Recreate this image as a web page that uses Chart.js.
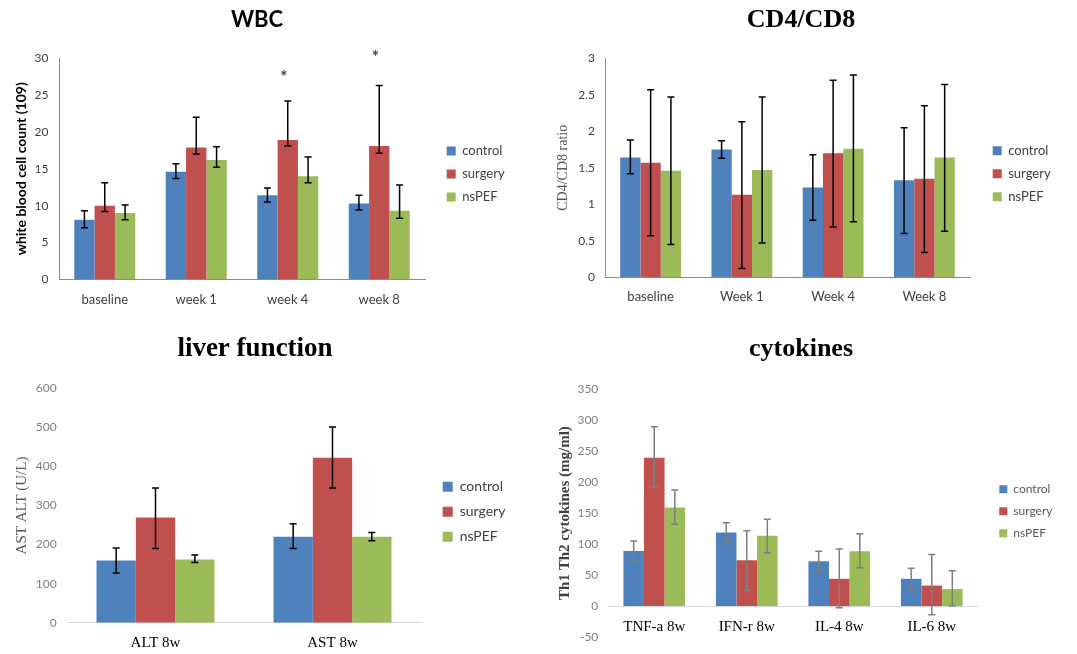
<!DOCTYPE html>
<html><head><meta charset="utf-8">
<script src="https://cdn.jsdelivr.net/npm/chart.js@4.4.1/dist/chart.umd.min.js"></script>
<style>
html,body{margin:0;padding:0;background:#fff;}
body{width:1077px;height:654px;position:relative;overflow:hidden;}
canvas{position:absolute;}
</style></head><body>
<canvas id="wbc" width="514" height="325" style="left:0;top:0"></canvas>
<canvas id="cd" width="522" height="325" style="left:540px;top:0"></canvas>
<canvas id="liver" width="510" height="329" style="left:0;top:325px"></canvas>
<canvas id="cyto" width="522" height="329" style="left:540px;top:325px"></canvas>
<script>
// ---------------- data ----------------
const seriesNames = ['control', 'surgery', 'nsPEF'];

// WBC
const wbcLabels = ['baseline', 'week 1', 'week 4', 'week 8'];
const wbcControl   = [8.1, 14.6, 11.4, 10.3];
const wbcControlHi = [9.3, 15.7, 12.4, 11.4];
const wbcControlLo = [7.0, 13.7, 10.5, 9.4];
const wbcSurgery   = [10.0, 17.9, 18.9, 18.1];
const wbcSurgeryHi = [13.1, 22.0, 24.2, 26.3];
const wbcSurgeryLo = [9.2, 17.0, 18.1, 17.1];
const wbcNsPEF     = [9.0, 16.2, 14.0, 9.3];
const wbcNsPEFHi   = [10.1, 18.0, 16.6, 12.8];
const wbcNsPEFLo   = [8.1, 15.2, 13.1, 8.3];
const wbcStarMarks = ['', '', '*', '*'];
const wbcStarAt    = [null, null, 27.8, 30.5];

// CD4/CD8
const cdLabels = ['baseline', 'Week 1', 'Week 4', 'Week 8'];
const cdControl   = [1.64, 1.75, 1.23, 1.33];
const cdControlHi = [1.88, 1.87, 1.68, 2.05];
const cdControlLo = [1.42, 1.63, 0.78, 0.60];
const cdSurgery   = [1.57, 1.13, 1.70, 1.35];
const cdSurgeryHi = [2.57, 2.13, 2.70, 2.35];
const cdSurgeryLo = [0.57, 0.12, 0.69, 0.34];
const cdNsPEF     = [1.46, 1.47, 1.76, 1.64];
const cdNsPEFHi   = [2.47, 2.47, 2.77, 2.64];
const cdNsPEFLo   = [0.45, 0.47, 0.76, 0.63];

// liver function
const liverLabels = ['ALT 8w', 'AST 8w'];
const liverControl   = [159, 220];
const liverControlHi = [191, 253];
const liverControlLo = [127, 190];
const liverSurgery   = [269, 422];
const liverSurgeryHi = [345, 501];
const liverSurgeryLo = [190, 345];
const liverNsPEF     = [162, 220];
const liverNsPEFHi   = [173, 231];
const liverNsPEFLo   = [154, 210];

// cytokines
const cytoLabels = ['TNF-a 8w', 'IFN-r 8w', 'IL-4 8w', 'IL-6 8w'];
const cytoControl   = [89, 118.5, 72.4, 44];
const cytoControlHi = [105, 134.5, 88.5, 61];
const cytoControlLo = [73, 102, 57, 28.4];
const cytoSurgery   = [239, 74, 44, 33];
const cytoSurgeryHi = [289, 121.6, 92, 83];
const cytoSurgeryLo = [191.5, 25.3, -2.6, -14];
const cytoNsPEF     = [159, 113.3, 88.5, 27.4];
const cytoNsPEFHi   = [187, 140, 116.5, 57];
const cytoNsPEFLo   = [132, 86, 62, 0.5];

// axis ranges
const wbcAxis   = {min: 0, max: 30, step: 5};
const cdAxis    = {min: 0, max: 3, step: 0.5};
const liverAxis = {min: 0, max: 600, step: 100};
const cytoAxis  = {min: -50, max: 350, step: 50};

// ---------------- style ----------------
const SANS = "Lato, 'Open Sans', sans-serif";
const SERIF = "'Liberation Serif', 'Times New Roman', serif";
const barColors = ['#4F81BD', '#C0504D', '#9BBB59'];
Chart.defaults.font.family = SANS;

function errorBarPlugin(color, width, cap) {
  return {
    id: 'errorBars',
    afterDatasetsDraw(chart) {
      const ctx = chart.ctx, ys = chart.scales.y;
      ctx.save();
      ctx.strokeStyle = color; ctx.lineWidth = width;
      chart.data.datasets.forEach((ds, i) => {
        const meta = chart.getDatasetMeta(i);
        meta.data.forEach((bar, j) => {
          const hi = ys.getPixelForValue(ds.errHi[j]);
          const lo = ys.getPixelForValue(ds.errLo[j]);
          const x = bar.x;
          ctx.beginPath();
          ctx.moveTo(x, hi); ctx.lineTo(x, lo);
          ctx.moveTo(x - cap, hi); ctx.lineTo(x + cap, hi);
          ctx.moveTo(x - cap, lo); ctx.lineTo(x + cap, lo);
          ctx.stroke();
        });
      });
      ctx.restore();
    }
  };
}

function starPlugin(marks, at, dsIndex) {
  return {
    id: 'starMarks',
    afterDatasetsDraw(chart) {
      const meta = chart.getDatasetMeta(dsIndex), ys = chart.scales.y, ctx = chart.ctx;
      ctx.save();
      ctx.font = 'bold 17px ' + SANS; ctx.fillStyle = '#404040';
      ctx.textAlign = 'center'; ctx.textBaseline = 'middle';
      marks.forEach((m, j) => { if (m) ctx.fillText(m, meta.data[j].x - 4, ys.getPixelForValue(at[j]) + 3); });
      ctx.restore();
    }
  };
}

function legendPlacer(x, yCenter, itemH, pad) {
  return {
    id: 'legendPlacer',
    afterLayout(chart) {
      const lg = chart.legend; if (!lg) return;
      lg.left = x - pad; lg.width = 250; lg.right = lg.left + 250;
      lg.top = yCenter - itemH / 2 - pad; lg.height = 200; lg.bottom = lg.top + 200;
    }
  };
}

function buildChart(id, s) {
  const datasets = s.series.map((ser, i) => ({
    label: seriesNames[i], data: ser[0], errHi: ser[1], errLo: ser[2],
    backgroundColor: barColors[i], borderWidth: 0,
    categoryPercentage: 2 / 3, barPercentage: 1
  }));
  const plugins = [errorBarPlugin(s.errColor, 1.5, 3.5),
                   legendPlacer(s.legX, s.legY, s.legFont, s.legPad)];
  if (s.stars) plugins.push(s.stars);
  return new Chart(document.getElementById(id), {
    type: 'bar',
    data: {labels: s.labels, datasets},
    options: {
      responsive: false, animation: false, devicePixelRatio: 1,
      layout: {padding: {left: 0, right: 0, top: 0, bottom: s.padB}},
      plugins: {
        tooltip: {enabled: false},
        title: {display: true, text: s.title, color: '#000',
                font: s.titleFont, padding: s.titlePad},
        legend: {display: true, position: 'right', align: 'start', maxWidth: 1,
                 labels: {boxWidth: s.legBox, boxHeight: s.legBox, padding: s.legPad,
                          color: s.legColor, font: {family: SANS, size: s.legFont}}}
      },
      scales: {
        x: {
          position: s.xPos || 'bottom',
          grid: {display: false, drawTicks: false},
          border: {display: true, color: s.xBorder, width: 1},
          ticks: {font: s.xFont, color: s.xColor, padding: s.xPad, maxRotation: 0},
          afterFit: sc => { sc.height = s.xH; }
        },
        y: {
          min: s.axis.min, max: s.axis.max,
          grid: {display: false, drawTicks: false},
          border: {display: !!s.yBorder, color: s.yBorder || '#000', width: 1},
          ticks: {stepSize: s.axis.step, font: {family: SANS, size: 12}, color: s.yTickColor,
                  padding: s.yPad, callback: v => String(Math.round(v * 100) / 100)},
          title: {display: true, text: s.yTitle, color: s.yTitleColor, font: s.yTitleFont,
                  padding: {top: s.yTitleOff, bottom: 0}},
          afterFit: sc => { sc.width = s.yW; }
        },
        y2: {
          position: 'right', display: true,
          grid: {display: false, drawTicks: false}, border: {display: false},
          ticks: {display: false},
          afterFit: sc => { sc.width = s.y2W; }
        }
      }
    },
    plugins
  });
}

// ---------------- panels ----------------
buildChart('wbc', {
  labels: wbcLabels, axis: wbcAxis,
  series: [[wbcControl, wbcControlHi, wbcControlLo],
           [wbcSurgery, wbcSurgeryHi, wbcSurgeryLo],
           [wbcNsPEF, wbcNsPEFHi, wbcNsPEFLo]],
  title: 'WBC', titleFont: {family: SANS, size: 22, weight: 'bold', lineHeight: 1.2},
  titlePad: {top: 7, bottom: 24.9},
  yTitle: 'white blood cell count (109)', yTitleColor: '#000',
  yTitleFont: {family: SANS, size: 14, weight: 'bold', lineHeight: 1.2}, yTitleOff: 13.3,
  yW: 59, y2W: 88, padB: 5.7, xH: 40, xPad: 13,
  xFont: {family: SANS, size: 13}, xColor: '#404040', xBorder: '#8c8c8c',
  yBorder: '#8c8c8c', yTickColor: '#404040', yPad: 10.5,
  legX: 446.7, legY: 151, legFont: 13, legBox: 9, legPad: 10, legColor: '#404040',
  errColor: '#000',
  stars: starPlugin(wbcStarMarks, wbcStarAt, 1)
});

buildChart('cd', {
  labels: cdLabels, axis: cdAxis,
  series: [[cdControl, cdControlHi, cdControlLo],
           [cdSurgery, cdSurgeryHi, cdSurgeryLo],
           [cdNsPEF, cdNsPEFHi, cdNsPEFLo]],
  title: 'CD4/CD8', titleFont: {family: SERIF, size: 26, weight: 'bold', lineHeight: 1.2},
  titlePad: {top: 4.9, bottom: 22.2},
  yTitle: 'CD4/CD8 ratio', yTitleColor: '#595959',
  yTitleFont: {family: SERIF, size: 14, weight: 'normal', lineHeight: 1.2}, yTitleOff: 14.9,
  yW: 65, y2W: 91, padB: 7.7, xH: 40, xPad: 11.6,
  xFont: {family: SANS, size: 13}, xColor: '#404040', xBorder: '#8c8c8c',
  yBorder: '#8c8c8c', yTickColor: '#404040', yPad: 10,
  legX: 452.7, legY: 150.7, legFont: 13, legBox: 9, legPad: 10, legColor: '#404040',
  errColor: '#000'
});

buildChart('liver', {
  labels: liverLabels, axis: liverAxis,
  series: [[liverControl, liverControlHi, liverControlLo],
           [liverSurgery, liverSurgeryHi, liverSurgeryLo],
           [liverNsPEF, liverNsPEFHi, liverNsPEFLo]],
  title: 'liver function', titleFont: {family: SERIF, size: 27, weight: 'bold', lineHeight: 1.2},
  titlePad: {top: 8, bottom: 22.9},
  yTitle: 'AST ALT (U/L)', yTitleColor: '#595959',
  yTitleFont: {family: SERIF, size: 15, weight: 'normal', lineHeight: 1.2}, yTitleOff: 12.7,
  yW: 67, y2W: 88, padB: 6.3, xH: 25, xPad: 11.6,
  xFont: {family: SERIF, size: 15}, xColor: '#000', xBorder: '#d9d9d9',
  yBorder: null, yTickColor: '#7f7f7f', yPad: 10.3,
  legX: 442.7, legY: 161.7, legFont: 14, legBox: 10, legPad: 11, legColor: '#404040',
  errColor: '#000'
});

buildChart('cyto', {
  labels: cytoLabels, axis: cytoAxis,
  series: [[cytoControl, cytoControlHi, cytoControlLo],
           [cytoSurgery, cytoSurgeryHi, cytoSurgeryLo],
           [cytoNsPEF, cytoNsPEFHi, cytoNsPEFLo]],
  title: 'cytokines', titleFont: {family: SERIF, size: 26, weight: 'bold', lineHeight: 1.2},
  titlePad: {top: 8.6, bottom: 24.2},
  yTitle: 'Th1 Th2 cytokines (mg/ml)', yTitleColor: '#404040',
  yTitleFont: {family: SERIF, size: 15, weight: 'bold', lineHeight: 1.2}, yTitleOff: 16,
  yW: 68, y2W: 83, padB: 7.3, xH: 0, xPad: 11.7, xPos: {y: 0},
  xFont: {family: SERIF, size: 15}, xColor: '#000', xBorder: '#d9d9d9',
  yBorder: null, yTickColor: '#7f7f7f', yPad: 9.7,
  legX: 459.3, legY: 164.3, legFont: 12, legBox: 8, legPad: 10, legColor: '#595959',
  errColor: '#7f7f7f'
});
</script>
</body></html>
